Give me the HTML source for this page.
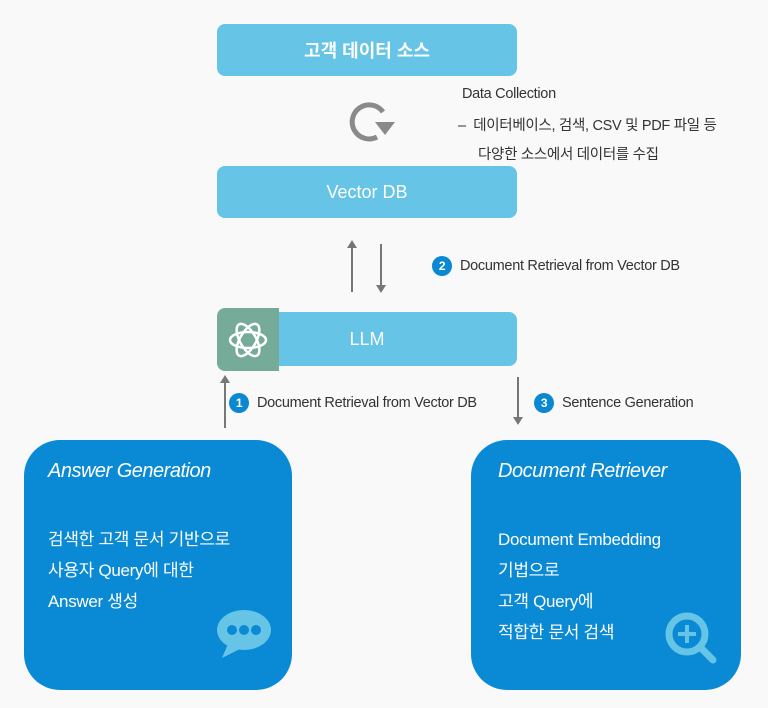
<!DOCTYPE html>
<html><head><meta charset="utf-8"><style>
body{margin:0;width:768px;height:708px;background:#f9f9f9;position:relative;font-family:"Liberation Sans","Noto Sans CJK KR",sans-serif;overflow:hidden}
.b{position:absolute;background:#66c4e6;border-radius:8px;color:#fff;font-size:18px;display:flex;align-items:center;justify-content:center}
.t{position:absolute;color:#333;font-size:14.5px;white-space:nowrap;letter-spacing:-0.3px}
.n{display:inline-block;width:20px;height:20px;border-radius:50%;background:#0a88d2;color:#fff;font-size:12px;font-weight:bold;text-align:center;line-height:20px;margin-right:8px;vertical-align:middle}
.big{position:absolute;background:#0a8ad4;color:#fff;border-radius:36px;width:268px;height:250px;top:440px}
.big i{position:absolute;left:24px;top:20px;font-size:20px;letter-spacing:-0.5px}
.big p{position:absolute;left:24px;top:84px;margin:0;font-size:17px;line-height:31px;letter-spacing:-0.3px}
</style></head><body>
<div class="b" style="left:217px;top:24px;width:300px;height:52px;font-weight:bold">고객 데이터 소스</div>
<div class="b" style="left:217px;top:166px;width:300px;height:52px">Vector DB</div>
<div class="b" style="left:217px;top:312px;width:300px;height:54px">LLM</div>
<div style="position:absolute;left:217px;top:308px;width:62px;height:63px;background:#75ab98;border-radius:8px 0 0 8px"></div>
<svg style="position:absolute;left:0;top:0" width="768" height="708">
<g fill="none" stroke="#fff" stroke-width="2.5">
<ellipse cx="248" cy="340" rx="18" ry="8"/><ellipse cx="248" cy="340" rx="18" ry="8" transform="rotate(60 248 340)"/><ellipse cx="248" cy="340" rx="18" ry="8" transform="rotate(-60 248 340)"/></g>
<path d="M383 112 A17 17 0 1 0 377 137" fill="none" stroke="#8a8a8a" stroke-width="5"/>
<polygon points="375,122 395,122 385,135" fill="#8a8a8a"/>
<g stroke="#777" stroke-width="2" fill="#777">
<line x1="352" y1="292" x2="352" y2="246"/><polygon points="347,248 357,248 352,240" stroke="none"/>
<line x1="381" y1="244" x2="381" y2="287"/><polygon points="376,285 386,285 381,293" stroke="none"/>
<line x1="225" y1="428" x2="225" y2="381"/><polygon points="220,383 230,383 225,375" stroke="none"/>
<line x1="518" y1="377" x2="518" y2="419"/><polygon points="513,417 523,417 518,425" stroke="none"/>
</g></svg>
<div class="t" style="left:462px;top:86px">Data Collection</div>
<div class="t" style="left:458px;top:114px">–&nbsp;&nbsp;데이터베이스, 검색, CSV 및 PDF 파일 등</div>
<div class="t" style="left:478px;top:143px">다양한 소스에서 데이터를 수집</div>
<div class="t" style="left:432px;top:256px"><span class="n">2</span>Document Retrieval from Vector DB</div>
<div class="t" style="left:229px;top:393px"><span class="n">1</span>Document Retrieval from Vector DB</div>
<div class="t" style="left:534px;top:393px"><span class="n">3</span>Sentence Generation</div>
<div class="big" style="left:24px"><i>Answer Generation</i><p>검색한 고객 문서 기반으로<br>사용자 Query에 대한<br>Answer 생성</p>
<svg style="position:absolute;left:192px;top:168px" width="60" height="54"><ellipse cx="28" cy="22" rx="27" ry="20" fill="#66c4e6"/><path d="M12 36 L6 50 L26 40Z" fill="#66c4e6"/><circle cx="16" cy="22" r="5" fill="#0a8ad4"/><circle cx="28" cy="22" r="5" fill="#0a8ad4"/><circle cx="40" cy="22" r="5" fill="#0a8ad4"/></svg></div>
<div class="big" style="left:471px;width:270px"><i style="left:27px">Document Retriever</i><p style="left:27px">Document Embedding<br>기법으로<br>고객 Query에<br>적합한 문서 검색</p>
<svg style="position:absolute;left:192px;top:170px" width="60" height="60"><circle cx="24" cy="24" r="18" fill="none" stroke="#66c4e6" stroke-width="7"/><line x1="37" y1="37" x2="50" y2="50" stroke="#66c4e6" stroke-width="7" stroke-linecap="round"/><line x1="24" y1="15" x2="24" y2="33" stroke="#66c4e6" stroke-width="4"/><line x1="15" y1="24" x2="33" y2="24" stroke="#66c4e6" stroke-width="4"/></svg></div>
</body></html>
